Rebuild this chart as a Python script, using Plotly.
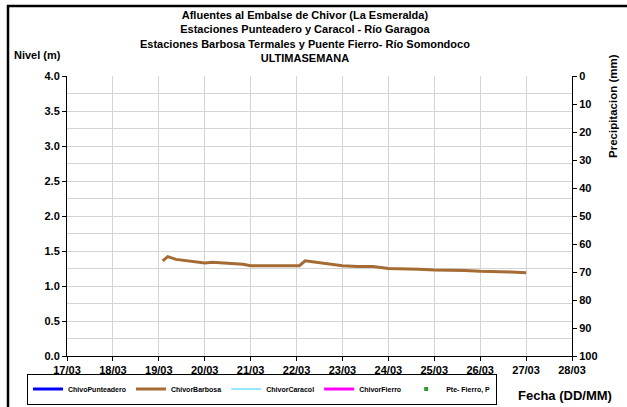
import plotly.graph_objects as go

# Nivel registrado en la estación Chivor Barbosa (m)
fechas_barbosa = [
    "2013-03-19 02:00", "2013-03-19 04:40", "2013-03-19 09:00", "2013-03-19 16:00",
    "2013-03-20 00:00", "2013-03-20 04:00", "2013-03-20 12:00", "2013-03-20 20:00",
    "2013-03-21 00:00", "2013-03-21 08:00", "2013-03-21 16:00", "2013-03-22 00:00",
    "2013-03-22 01:30", "2013-03-22 04:30", "2013-03-22 10:00", "2013-03-22 18:00",
    "2013-03-23 00:00", "2013-03-23 08:00", "2013-03-23 16:00", "2013-03-24 00:00",
    "2013-03-24 08:00", "2013-03-24 16:00", "2013-03-25 00:00", "2013-03-25 08:00",
    "2013-03-25 16:00", "2013-03-26 00:00", "2013-03-26 08:00", "2013-03-26 16:00",
    "2013-03-27 00:00",
]
nivel_barbosa = [
    1.36, 1.42, 1.38, 1.36,
    1.33, 1.34, 1.33, 1.31,
    1.29, 1.29, 1.30, 1.30,
    1.29, 1.36, 1.34, 1.31,
    1.29, 1.28, 1.28, 1.25,
    1.25, 1.24, 1.23, 1.23,
    1.22, 1.21, 1.21, 1.20,
    1.19,
]

# Estaciones sin registros en la semana
fechas_vacias = [None]
valores_vacios = [None]

series = ["ChivoPunteadero", "ChivorBarbosa", "ChivorCaracol", "ChivorFierro"]
colores = ["#0000FF", "#A66A33", "#33CCFF", "#FF00FF"]
anchos = [3, 3, 1.2, 3]

titulo = [
    "Afluentes al Embalse de Chivor (La Esmeralda)",
    "Estaciones Punteadero y Caracol - Río Garagoa",
    "Estaciones Barbosa Termales y Puente Fierro- Río Somondoco",
    "ULTIMASEMANA",
]

W, H = 627, 407
L, R, T, B = 67, 55, 76, 51
pw, ph = W - L - R, H - T - B

def px(x):
    return (x - L) / pw

def py(y):
    return (H - B - y) / ph

fuente = "Arial, Liberation Sans, sans-serif"
negrita = dict(family=fuente, size=11, color="black", weight=700)

fig = go.Figure()
for nombre, color, ancho in zip(series, colores, anchos):
    if nombre == "ChivorBarbosa":
        xs, ys = fechas_barbosa, nivel_barbosa
    else:
        xs, ys = fechas_vacias, valores_vacios
    fig.add_trace(go.Scatter(x=xs, y=ys, mode="lines", name=nombre,
                             line=dict(color=color, width=ancho)))

fig.add_trace(go.Scatter(x=fechas_vacias, y=valores_vacios, mode="markers",
                         name="Pte- Fierro, P", yaxis="y2",
                         marker=dict(color="#339933", size=4, symbol="square")))

fig.update_layout(
    width=W, height=H,
    margin=dict(l=L, r=R, t=T, b=B, autoexpand=False),
    paper_bgcolor="white", plot_bgcolor="white",
    font=dict(family=fuente, size=11, color="black"),
    showlegend=True,
    legend=dict(
        orientation="h", x=px(27), y=py(389), xanchor="left", yanchor="middle",
        bordercolor="black", borderwidth=1, bgcolor="white",
        font=dict(family=fuente, size=7, color="black", weight=700),
        valign="middle",
    ),
    xaxis=dict(
        type="date", range=["2013-03-17", "2013-03-28"],
        dtick=86400000, tick0="2013-03-17", tickformat="%d/%m",
        showgrid=True, gridcolor="#d4d4d4", gridwidth=1,
        showline=True, linecolor="black", linewidth=1,
        ticks="outside", ticklen=4, tickcolor="black",
        tickfont=negrita,
        zeroline=False,
    ),
    yaxis=dict(
        range=[0, 4], dtick=0.5, tickformat=".1f",
        showgrid=True, gridcolor="#d4d4d4", gridwidth=1,
        minor=dict(dtick=0.25, showgrid=True, gridcolor="#d4d4d4"),
        showline=True, linecolor="black", linewidth=1,
        ticks="outside", ticklen=4, tickcolor="black",
        tickfont=negrita,
        zeroline=False,
    ),
    yaxis2=dict(
        overlaying="y", side="right", range=[100, 0], dtick=10,
        showgrid=False, showline=True, linecolor="black", linewidth=1,
        ticks="outside", ticklen=4, tickcolor="black",
        tickfont=negrita,
        zeroline=False,
    ),
)

# Título de cuatro líneas
fig.add_annotation(
    text="<br>".join(f"<b>{t}</b>" for t in titulo),
    xref="paper", yref="paper", x=px(305), y=py(7), xanchor="center", yanchor="top",
    showarrow=False, font=dict(family=fuente, size=11), align="center",
)
fig.add_annotation(
    text="<b>Nivel (m)</b>", xref="paper", yref="paper", x=px(12), y=py(55),
    xanchor="left", yanchor="middle", showarrow=False, font=dict(family=fuente, size=11),
)
fig.add_annotation(
    text="<b>Precipitacion (mm)</b>", xref="paper", yref="paper", x=px(613), y=py(106),
    xanchor="center", yanchor="middle", textangle=-90, showarrow=False,
    font=dict(family=fuente, size=11.5),
)
fig.add_annotation(
    text="<b>Fecha (DD/MM)</b>", xref="paper", yref="paper", x=px(614), y=py(395),
    xanchor="right", yanchor="middle", showarrow=False, font=dict(family=fuente, size=13),
)

# Marco exterior del gráfico
fig.add_shape(type="rect", xref="paper", yref="paper",
              x0=px(8), x1=px(640), y0=py(420), y1=py(6),
              line=dict(color="black", width=2.5), layer="above")

fig.write_html("out.html")
